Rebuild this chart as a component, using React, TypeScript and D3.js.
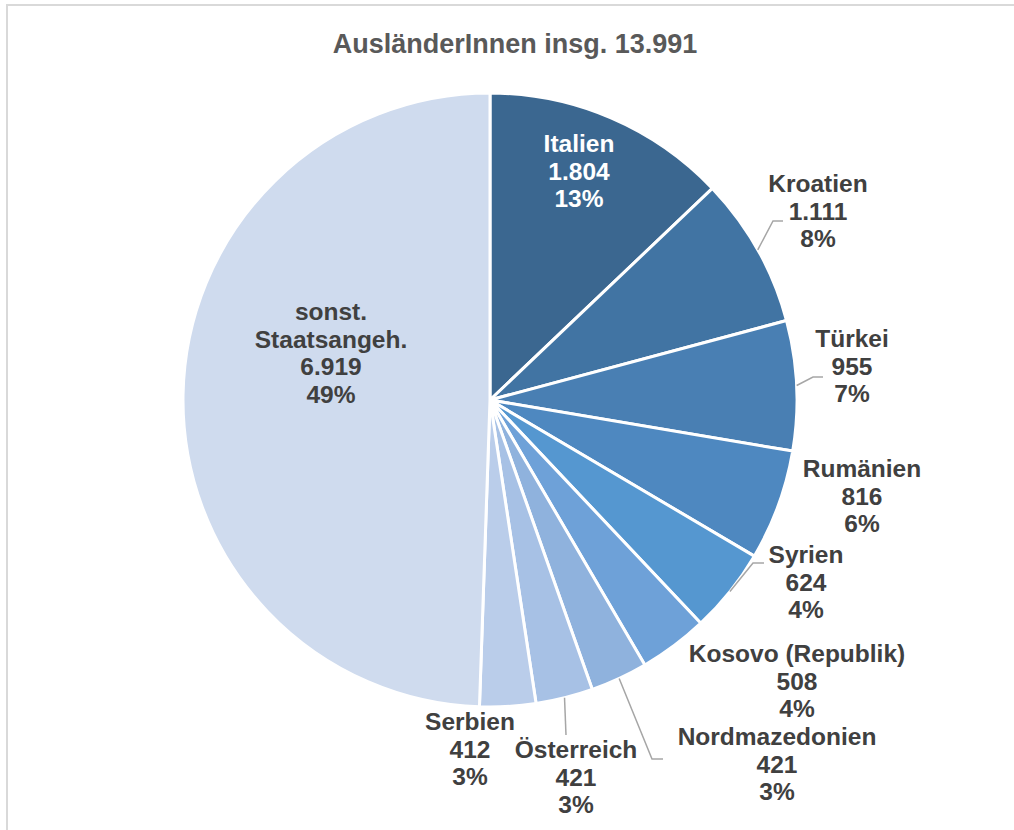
import React from "react";
import * as d3 from "d3";

const titleText = "AusländerInnen insg. 13.991";
const countries = [
  "Italien",
  "Kroatien",
  "Türkei",
  "Rumänien",
  "Syrien",
  "Kosovo (Republik)",
  "Nordmazedonien",
  "Österreich",
  "Serbien",
  "sonst. Staatsangeh.",
];
const values = [1804, 1111, 955, 816, 624, 508, 421, 421, 412, 6919];
const sliceColors = [
  "#3B6790",
  "#4174A3",
  "#497FB3",
  "#4E88C0",
  "#5597D0",
  "#6EA1D8",
  "#8FB2DD",
  "#A7C1E5",
  "#BACDEA",
  "#CFDBEE",
];

// layout of labels: center x, first baseline y, optional leader elbow
const labelLayout: { x: number; y: number; elbow?: [number, number]; end?: [number, number]; white?: boolean; lines?: string[] }[] = [
  { x: 579, y: 152, white: true },
  { x: 818, y: 192, elbow: [773, 221], end: [783, 221] },
  { x: 852, y: 347, elbow: [813, 377], end: [823, 377] },
  { x: 862, y: 477 },
  { x: 806, y: 563, elbow: [753, 563], end: [764, 563] },
  { x: 797, y: 662 },
  { x: 777, y: 745, elbow: [652, 759], end: [663, 759] },
  { x: 576, y: 758, elbow: [566, 735], end: [566, 735] },
  { x: 470, y: 730 },
  { x: 331, y: 320, lines: ["sonst.", "Staatsangeh."] },
];

const W = 1014;
const H = 830;
const cx = 490;
const cy = 400;
const R = 307;
const lineH = 27.5;

const de = d3.formatLocale({ decimal: ",", thousands: ".", grouping: [3], currency: ["", " €"] });
const fmt = de.format(",d");

export default function App() {
  const total = d3.sum(values);
  const pie = d3.pie<number>().sort(null).value((d) => d);
  const arcs = pie(values);
  const arcGen = d3.arc<d3.PieArcDatum<number>>().innerRadius(0).outerRadius(R);
  const edgeArc = d3.arc<d3.PieArcDatum<number>>().innerRadius(R).outerRadius(R);

  return (
    <svg
      width={W}
      height={H}
      style={{ position: "absolute", left: 0, top: 0, background: "#fff" }}
      fontFamily="'Liberation Sans', Arial, Helvetica, sans-serif"
    >
      <rect x={7} y={5} width={W + 20} height={H + 20} fill="#fff" stroke="#D9D9D9" strokeWidth={2} />
      <text x={515} y={53} textAnchor="middle" fontSize={27} fontWeight="bold" fill="#595959">
        {titleText}
      </text>
      <g transform={`translate(${cx},${cy})`}>
        {arcs.map((a, i) => (
          <path key={i} d={arcGen(a) || ""} fill={sliceColors[i]} stroke="#fff" strokeWidth={3} strokeLinejoin="round" />
        ))}
      </g>
      {arcs.map((a, i) => {
        const L = labelLayout[i];
        if (!L.elbow || !L.end) return null;
        const [px, py] = edgeArc.centroid(a);
        const pts = [
          [cx + px, cy + py],
          L.elbow,
          L.end,
        ];
        return (
          <polyline
            key={"l" + i}
            points={pts.map((p) => p.join(",")).join(" ")}
            fill="none"
            stroke="#A6A6A6"
            strokeWidth={1.5}
          />
        );
      })}
      {arcs.map((a, i) => {
        const L = labelLayout[i];
        const nameLines = L.lines || [countries[i]];
        const pct = Math.round((values[i] / total) * 100) + "%";
        const lines = [...nameLines, fmt(values[i]), pct];
        return (
          <text
            key={"t" + i}
            x={L.x}
            y={L.y}
            textAnchor="middle"
            fontSize={24.5}
            fontWeight="bold"
            fill={L.white ? "#FFFFFF" : "#404040"}
          >
            {lines.map((s, j) => (
              <tspan key={j} x={L.x} y={L.y + j * lineH}>
                {s}
              </tspan>
            ))}
          </text>
        );
      })}
    </svg>
  );
}
